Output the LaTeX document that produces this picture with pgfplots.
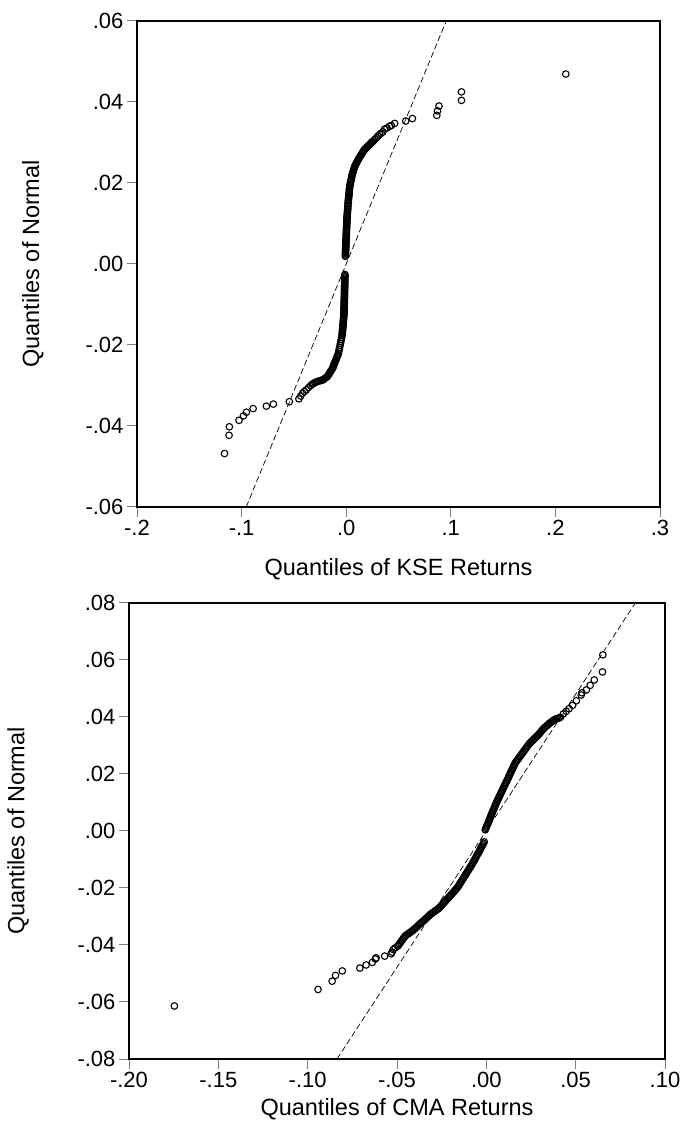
\documentclass[border=0pt]{standalone}
\usepackage{fontspec}
\setmainfont{Liberation Sans}
\usepackage{pgfplots}
\pgfplotsset{compat=1.18}
\begin{document}
\begin{tikzpicture}
\useasboundingbox (0pt,0pt) rectangle (683pt,1126pt);
\pgfplotsset{
  qq/.style={
    scale only axis,
    scaled ticks=false,
    axis line style={black, line width=1.2pt},
    tick pos=left,
    tick align=outside,
    major tick length=10pt,
    tick style={gray, line width=1pt},
    tick label style={font=\fontsize{22}{24}\selectfont},
    label style={font=\fontsize{23.5}{26}\selectfont},
    /pgf/number format/assume math mode=true,
  },
  pts/.style={only marks, mark=o, mark size=3.3pt, mark options={black, line width=1.1pt}},
  ref/.style={black, line width=0.7pt, dash pattern=on 6pt off 3pt},
}
% ---------------- top: KSE ----------------
\begin{axis}[qq, at={(137pt,619pt)}, anchor=south west, width=523pt, height=486pt,
  xmin=-0.2, xmax=0.3, ymin=-0.06, ymax=0.06,
  xtick={-0.2,-0.1,0,0.1,0.2,0.3}, xticklabels={\mbox{-.2},\mbox{-.1},\mbox{.0},\mbox{.1},\mbox{.2},\mbox{.3}},
  ytick={-0.06,-0.04,-0.02,0,0.02,0.04,0.06}, yticklabels={\mbox{-.06},\mbox{-.04},\mbox{-.02},\mbox{.00},\mbox{.02},\mbox{.04},\mbox{.06}},
  xlabel={Quantiles of KSE Returns}, ylabel={Quantiles of Normal},
  xlabel style={at={(axis description cs:0.5,-0.1276)}, anchor=center},
  ylabel style={at={(axis description cs:-0.199,0.5)}, anchor=center},
]
\addplot[ref] coordinates {(-0.0956,-0.06) (0.0956,0.06)};
\addplot[pts] coordinates {
(-0.0008,0.0019)(-0.00075,0.0022)(-0.0007,0.0025)(-0.00065,0.0028)(-0.0006,0.0031)(-0.00055,0.0034)(-0.0005,0.0037)(-0.00045,0.0040)(-0.0004,0.0043)(-0.00035,0.0046)(-0.0003,0.0049)(-0.00025,0.0052)(-0.0002,0.0055)(-0.00015,0.0058)(-0.0001,0.0061)(-0.00005,0.0064)(0,0.0067)(0.00005,0.0070)(0.0001,0.0073)(0.00015,0.0076)(0.0002,0.0079)(0.00025,0.0082)(0.0003,0.0085)(0.00035,0.0088)(0.0004,0.0091)(0.00045,0.0094)(0.0005,0.0097)(0.00055,0.0100)(0.0006,0.0103)(0.00065,0.0106)(0.0007,0.0109)(0.00075,0.0112)(0.0008,0.0115)(0.0009,0.0118)(0.001,0.0121)(0.0011,0.0124)
(0.0012,0.0128)(0.0013,0.0131)(0.0014,0.0135)(0.0015,0.0138)(0.0016,0.0142)(0.0017,0.0145)(0.0018,0.0149)(0.0019,0.0152)(0.0020,0.0156)(0.0021,0.0159)(0.0023,0.0163)(0.0024,0.0166)(0.0026,0.0170)(0.0027,0.0173)(0.0028,0.0177)(0.0030,0.0180)(0.0031,0.0184)(0.0032,0.0187)(0.0034,0.0191)(0.0035,0.0194)(0.0038,0.0197)(0.0041,0.0201)(0.0044,0.0204)(0.0047,0.0208)(0.0050,0.0211)(0.0052,0.0215)(0.0055,0.0218)(0.0057,0.0221)(0.0061,0.0224)(0.0065,0.0227)(0.0069,0.0230)(0.0073,0.0234)(0.0077,0.0237)(0.0081,0.0240)(0.0085,0.0243)(0.0091,0.0246)(0.0097,0.0249)(0.0103,0.0252)(0.0109,0.0255)(0.0115,0.0258)(0.0120,0.0260)(0.0127,0.0263)(0.0134,0.0266)(0.0141,0.0269)(0.0149,0.0272)(0.0156,0.0275)(0.0163,0.0278)(0.0170,0.0281)(0.0178,0.0283)(0.0185,0.0285)(0.0193,0.0287)(0.0200,0.0289)(0.0208,0.0291)(0.0216,0.0293)(0.0225,0.0295)(0.0234,0.0298)(0.0243,0.0300)(0.0251,0.0302)(0.0260,0.0304)(0.0275,0.0308)(0.0290,0.0312)(0.0305,0.0316)(0.0320,0.0320)(0.0335,0.0323)(0.0350,0.0326)(0.0367,0.0333)(0.0390,0.0336)(0.0415,0.0340)(0.0431,0.0342)(0.0463,0.0347)
(0.0569,0.0353)(0.0633,0.0359)(0.0866,0.0367)(0.0873,0.0378)(0.0887,0.0390)(0.1102,0.0404)(0.1102,0.0425)(0.2099,0.0469)
};
\addplot[pts] coordinates {
(-0.0012,-0.0026)(-0.0012,-0.0029)(-0.0013,-0.0032)(-0.0013,-0.0035)(-0.0013,-0.0038)(-0.0013,-0.0041)(-0.0014,-0.0044)(-0.0014,-0.0047)(-0.0014,-0.0050)(-0.0015,-0.0053)(-0.0015,-0.0056)(-0.0015,-0.0059)(-0.0015,-0.0062)(-0.0016,-0.0065)(-0.0016,-0.0068)(-0.0016,-0.0071)(-0.0017,-0.0074)(-0.0017,-0.0077)(-0.0017,-0.0080)(-0.0017,-0.0083)(-0.0018,-0.0086)(-0.0018,-0.0089)(-0.0018,-0.0092)(-0.0019,-0.0095)(-0.0019,-0.0098)(-0.0019,-0.0101)(-0.0019,-0.0104)(-0.0020,-0.0107)(-0.0020,-0.0110)(-0.0020,-0.0113)(-0.0021,-0.0116)(-0.0021,-0.0119)(-0.0021,-0.0122)(-0.0022,-0.0125)
(-0.0023,-0.0128)(-0.0024,-0.0131)(-0.0025,-0.0134)(-0.0026,-0.0137)(-0.0027,-0.0140)(-0.0028,-0.0143)(-0.0029,-0.0146)(-0.0030,-0.0149)(-0.0031,-0.0152)(-0.0032,-0.0155)(-0.0033,-0.0158)(-0.0034,-0.0161)(-0.0035,-0.0164)(-0.0036,-0.0167)(-0.0037,-0.0170)(-0.0038,-0.0173)(-0.0039,-0.0176)
(-0.0043,-0.0181)(-0.0047,-0.0186)(-0.0051,-0.0191)(-0.0055,-0.0196)(-0.0059,-0.0201)(-0.0063,-0.0206)(-0.0067,-0.0211)(-0.0071,-0.0216)(-0.0074,-0.0221)
(-0.0079,-0.0224)(-0.0084,-0.0227)(-0.0089,-0.0230)(-0.0094,-0.0234)(-0.0099,-0.0237)(-0.0104,-0.0240)(-0.0109,-0.0243)(-0.0114,-0.0246)(-0.0119,-0.0250)(-0.0123,-0.0253)(-0.0127,-0.0256)
(-0.0134,-0.0259)(-0.0140,-0.0262)(-0.0147,-0.0264)(-0.0154,-0.0267)(-0.0160,-0.0270)(-0.0167,-0.0273)(-0.0173,-0.0275)(-0.0180,-0.0278)
(-0.0191,-0.0280)(-0.0201,-0.0282)(-0.0212,-0.0284)(-0.0222,-0.0286)(-0.0233,-0.0287)
(-0.0245,-0.0288)(-0.0260,-0.0289)(-0.0273,-0.0290)(-0.0286,-0.0291)(-0.0300,-0.0293)(-0.0313,-0.0295)(-0.0326,-0.0297)(-0.0339,-0.0300)(-0.0360,-0.0305)(-0.0382,-0.0311)(-0.0400,-0.0315)(-0.0417,-0.0319)(-0.0435,-0.0326)(-0.0452,-0.0333)
(-0.0544,-0.0340)(-0.0696,-0.0346)(-0.0763,-0.0351)(-0.0890,-0.0357)(-0.0954,-0.0366)(-0.0982,-0.0375)(-0.1025,-0.0386)(-0.1117,-0.0402)(-0.1120,-0.0423)(-0.1163,-0.0468)
};
\end{axis}
% ---------------- bottom: CMA ----------------
\begin{axis}[qq, at={(129pt,67pt)}, anchor=south west, width=536pt, height=456pt,
  xmin=-0.2, xmax=0.1, ymin=-0.08, ymax=0.08,
  xtick={-0.2,-0.15,-0.1,-0.05,0,0.05,0.1}, xticklabels={\mbox{-.20},\mbox{-.15},\mbox{-.10},\mbox{-.05},\mbox{.00},\mbox{.05},\mbox{.10}},
  ytick={-0.08,-0.06,-0.04,-0.02,0,0.02,0.04,0.06,0.08}, yticklabels={\mbox{-.08},\mbox{-.06},\mbox{-.04},\mbox{-.02},\mbox{.00},\mbox{.02},\mbox{.04},\mbox{.06},\mbox{.08}},
  xlabel={Quantiles of CMA Returns}, ylabel={Quantiles of Normal},
  xlabel style={at={(axis description cs:0.5,-0.11)}, anchor=center},
  ylabel style={at={(axis description cs:-0.207,0.5)}, anchor=center},
]
\addplot[ref] coordinates {(-0.0836,-0.08) (0.0834,0.08)};
\addplot[pts] coordinates {
(-0.1746,-0.0614)(-0.0942,-0.0556)(-0.0863,-0.0527)(-0.0844,-0.0507)(-0.0806,-0.0491)(-0.0708,-0.0481)(-0.0673,-0.0470)(-0.0638,-0.0461)(-0.0621,-0.0449)(-0.0617,-0.0445)(-0.0569,-0.0439)(-0.0533,-0.0431)(-0.0527,-0.0425)(-0.0521,-0.0416)(-0.0510,-0.0410)
(-0.0496,-0.0404)(-0.0491,-0.0400)(-0.0486,-0.0395)(-0.0480,-0.0391)(-0.0475,-0.0386)(-0.0470,-0.0382)(-0.0465,-0.0377)(-0.0459,-0.0373)(-0.0454,-0.0368)
(-0.0447,-0.0365)(-0.0440,-0.0362)(-0.0433,-0.0359)(-0.0427,-0.0356)(-0.0420,-0.0353)(-0.0413,-0.0350)
(-0.0407,-0.0346)(-0.0400,-0.0343)(-0.0394,-0.0339)(-0.0388,-0.0336)(-0.0382,-0.0332)(-0.0375,-0.0328)(-0.0369,-0.0325)(-0.0363,-0.0321)(-0.0356,-0.0318)(-0.0350,-0.0314)
(-0.0344,-0.0311)(-0.0338,-0.0307)(-0.0332,-0.0304)(-0.0326,-0.0300)(-0.0320,-0.0297)(-0.0314,-0.0293)(-0.0308,-0.0290)
(-0.0301,-0.0287)(-0.0294,-0.0284)(-0.0288,-0.0281)(-0.0281,-0.0278)(-0.0274,-0.0275)(-0.0267,-0.0272)
(-0.0261,-0.0268)(-0.0255,-0.0264)(-0.0250,-0.0260)(-0.0244,-0.0256)(-0.0238,-0.0252)(-0.0232,-0.0248)(-0.0227,-0.0244)(-0.0221,-0.0240)(-0.0215,-0.0236)
(-0.0209,-0.0232)(-0.0203,-0.0228)(-0.0198,-0.0224)(-0.0192,-0.0220)(-0.0186,-0.0216)(-0.0180,-0.0212)(-0.0175,-0.0208)(-0.0169,-0.0204)(-0.0163,-0.0200)
(-0.0158,-0.0195)(-0.0154,-0.0191)(-0.0149,-0.0186)(-0.0144,-0.0181)(-0.0140,-0.0177)(-0.0135,-0.0172)(-0.0130,-0.0167)(-0.0126,-0.0163)(-0.0121,-0.0158)
(-0.0116,-0.0153)(-0.0112,-0.0149)(-0.0107,-0.0144)(-0.0102,-0.0139)(-0.0098,-0.0135)(-0.0093,-0.0130)(-0.0088,-0.0125)(-0.0084,-0.0121)(-0.0079,-0.0116)
(-0.0075,-0.0111)(-0.0071,-0.0106)(-0.0066,-0.0102)(-0.0062,-0.0097)(-0.0058,-0.0092)(-0.0054,-0.0087)(-0.0050,-0.0082)(-0.0045,-0.0078)(-0.0041,-0.0073)(-0.0037,-0.0068)
(-0.0033,-0.0063)(-0.0029,-0.0058)(-0.0024,-0.0053)(-0.0020,-0.0048)(-0.0016,-0.0043)(-0.0012,-0.0038)
};
\addplot[pts] coordinates {
(-0.0006,0.0004)(-0.0003,0.0009)(0.0000,0.0014)(0.0003,0.0018)(0.0006,0.0023)(0.0010,0.0028)(0.0013,0.0033)(0.0016,0.0038)(0.0019,0.0042)(0.0022,0.0047)(0.0025,0.0052)
(0.0028,0.0057)(0.0031,0.0061)(0.0034,0.0066)(0.0037,0.0071)(0.0041,0.0076)(0.0044,0.0080)(0.0047,0.0085)(0.0050,0.0090)(0.0053,0.0094)(0.0056,0.0099)
(0.0060,0.0104)(0.0063,0.0108)(0.0067,0.0113)(0.0070,0.0118)(0.0074,0.0122)(0.0077,0.0127)(0.0081,0.0132)(0.0084,0.0136)(0.0088,0.0141)
(0.0092,0.0146)(0.0095,0.0151)(0.0099,0.0156)(0.0103,0.0161)(0.0107,0.0166)(0.0110,0.0170)(0.0114,0.0175)(0.0118,0.0180)(0.0122,0.0185)(0.0125,0.0190)(0.0129,0.0195)
(0.0132,0.0200)(0.0136,0.0204)(0.0139,0.0209)(0.0143,0.0214)(0.0146,0.0218)(0.0150,0.0223)(0.0153,0.0228)(0.0157,0.0232)(0.0160,0.0237)
(0.0165,0.0242)(0.0170,0.0246)(0.0176,0.0251)(0.0181,0.0255)(0.0186,0.0260)(0.0191,0.0264)(0.0197,0.0269)(0.0202,0.0273)
(0.0207,0.0278)(0.0212,0.0282)(0.0218,0.0287)(0.0223,0.0291)(0.0228,0.0296)(0.0233,0.0300)(0.0239,0.0305)(0.0244,0.0309)
(0.0250,0.0312)(0.0256,0.0316)(0.0262,0.0319)(0.0267,0.0323)(0.0273,0.0326)(0.0279,0.0330)(0.0285,0.0333)
(0.0290,0.0337)(0.0296,0.0341)(0.0301,0.0345)(0.0306,0.0349)(0.0312,0.0353)(0.0317,0.0357)
(0.0323,0.0361)(0.0329,0.0364)(0.0336,0.0368)(0.0342,0.0371)(0.0348,0.0375)
(0.0354,0.0378)(0.0360,0.0381)(0.0367,0.0384)(0.0373,0.0387)(0.0379,0.0390)
(0.0386,0.0392)(0.0393,0.0394)(0.0401,0.0395)(0.0408,0.0397)(0.0415,0.0399)
(0.0431,0.0411)(0.0447,0.0420)(0.0463,0.0429)(0.0483,0.0441)(0.0504,0.0457)(0.0531,0.0477)(0.0535,0.0485)(0.0560,0.0495)(0.0581,0.0511)(0.0604,0.0530)(0.0650,0.0558)(0.0652,0.0618)
};
\end{axis}
\end{tikzpicture}
\end{document}
